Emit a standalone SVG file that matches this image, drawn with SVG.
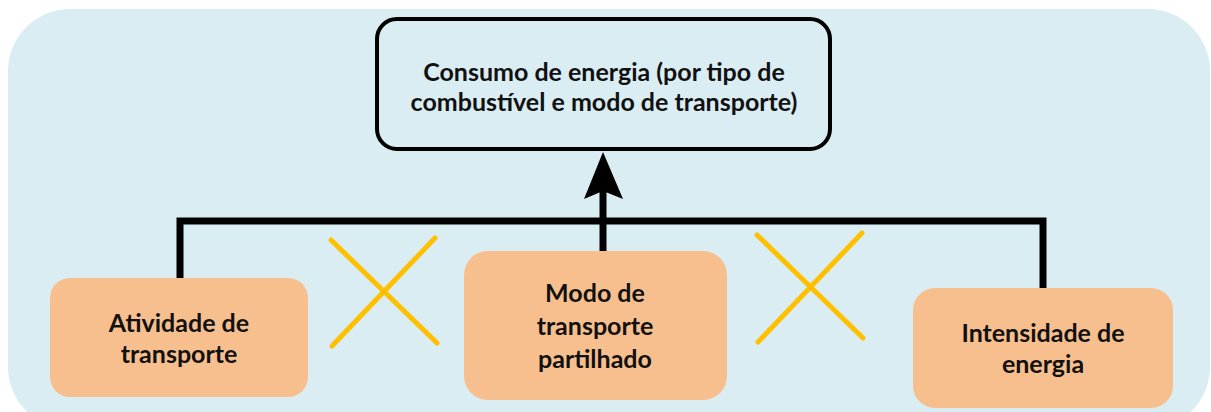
<svg xmlns="http://www.w3.org/2000/svg" width="1211" height="412" viewBox="0 0 1211 412">
  <style>
    .bg { fill: #DAEDF3; }
    .top { fill: #DAEDF3; stroke: #000; stroke-width: 4; }
    .node { fill: #F8BF8E; }
    .txt { font-family: Lato, "Open Sans", sans-serif; font-weight: bold; font-size: 25px; fill: #111; text-anchor: middle; }
    .conn { fill: none; stroke: #000; stroke-width: 7; stroke-linejoin: miter; }
    .cross { stroke: #FFC000; stroke-width: 5; stroke-linecap: round; }
  </style>
  <rect class="bg" x="8" y="9" width="1202" height="420" rx="62"/>
  <g id="connectors">
    <path class="conn" d="M180,279 V221 H1043 V289"/>
    <path class="conn" d="M603,251 V188"/>
    <path d="M603,152 L623,199 L603,191 L584,199 Z" fill="#000"/>
  </g>
  <g id="crosses">
    <line class="cross" x1="331" y1="240" x2="437" y2="343"/>
    <line class="cross" x1="435" y1="238" x2="332" y2="346"/>
    <line class="cross" x1="757" y1="235" x2="863" y2="338"/>
    <line class="cross" x1="862" y1="233" x2="758" y2="342"/>
  </g>
  <g id="n-consumo">
    <rect class="top" x="377" y="19" width="453" height="130" rx="20"/>
    <text class="txt" x="604" y="81">Consumo de energia (por tipo de</text>
    <text class="txt" x="604" y="111">combustível e modo de transporte)</text>
  </g>
  <g id="n-atividade">
    <rect class="node" x="50" y="278" width="258" height="119" rx="20"/>
    <text class="txt" x="179" y="332">Atividade de</text>
    <text class="txt" x="179" y="363">transporte</text>
  </g>
  <g id="n-modo">
    <rect class="node" x="464" y="251" width="263" height="149" rx="24"/>
    <text class="txt" x="595" y="302">Modo de</text>
    <text class="txt" x="595" y="335">transporte</text>
    <text class="txt" x="595" y="368">partilhado</text>
  </g>
  <g id="n-intensidade">
    <rect class="node" x="913" y="288" width="260" height="120" rx="22"/>
    <text class="txt" x="1043" y="342">Intensidade de</text>
    <text class="txt" x="1043" y="373">energia</text>
  </g>
</svg>
